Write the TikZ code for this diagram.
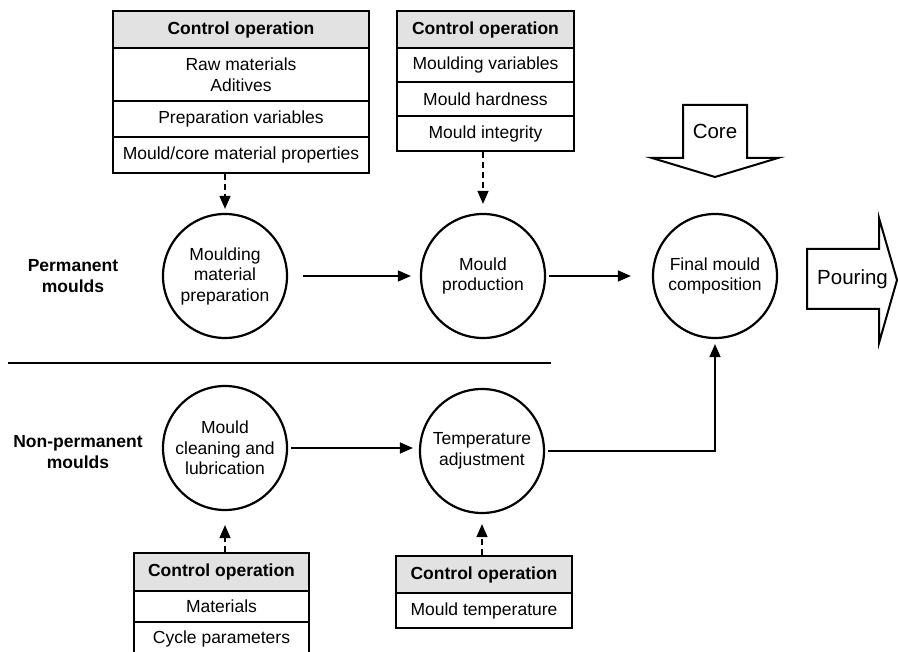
\documentclass[tikz,border=0pt]{standalone}
\usepackage{fontspec}
\setmainfont{Liberation Sans}
\usetikzlibrary{arrows.meta}
\definecolor{headgray}{HTML}{E2E2E2}
\newcommand{\txtsize}{\fontsize{17.5}{20.5}\selectfont}
\newcommand{\bigsize}{\fontsize{20.5}{24}\selectfont}
\begin{document}
\begin{tikzpicture}[x=1pt,y=-1pt,
  every node/.style={font=\txtsize},
  proc/.style={circle, draw, line width=2.2pt, minimum size=124pt, inner sep=0pt, align=center},
  hdr/.style={draw, line width=1.5pt, fill=headgray, font=\txtsize\bfseries, inner sep=0pt},
  cell/.style={draw, line width=1.5pt, inner sep=0pt, align=center},
  side/.style={font=\txtsize\bfseries, align=center},
  flow/.style={line width=1.4pt, -{Triangle[length=13pt,width=11pt]}},
  ctrl/.style={flow, dash pattern=on 6pt off 4pt},
  fat/.style={draw, line width=2pt, line join=miter}
]
\useasboundingbox (0,0) rectangle (898,652);

% control operations for the moulding material
\node[hdr,  minimum width=256pt, minimum height=37pt] (c1h) at (241,29.5) {Control operation};
\node[cell, minimum width=256pt, minimum height=53pt] (c1a) at (241,74.5) {Raw materials\\Aditives};
\node[cell, minimum width=256pt, minimum height=36pt] (c1b) at (241,119) {Preparation variables};
\node[cell, minimum width=256pt, minimum height=36pt] (c1c) at (241,155) {Mould/core material properties};

% control operations for the mould
\node[hdr,  minimum width=177pt, minimum height=37pt] (c2h) at (485.5,29.5) {Control operation};
\node[cell, minimum width=177pt, minimum height=34pt] (c2a) at (485.5,65) {Moulding variables};
\node[cell, minimum width=177pt, minimum height=34pt] (c2b) at (485.5,99) {Mould hardness};
\node[cell, minimum width=177pt, minimum height=35pt] (c2c) at (485.5,133.5) {Mould integrity};

% control operations for cleaning
\node[hdr,  minimum width=175pt, minimum height=38pt] (c3h) at (221.5,572) {Control operation};
\node[cell, minimum width=175pt, minimum height=31pt] (c3a) at (221.5,606.5) {Materials};
\node[cell, minimum width=175pt, minimum height=34pt] (c3b) at (221.5,639) {Cycle parameters};

% control operations for temperature
\node[hdr,  minimum width=176pt, minimum height=37pt] (c4h) at (484,574.5) {Control operation};
\node[cell, minimum width=176pt, minimum height=35pt] (c4a) at (484,610.5) {Mould temperature};

% process steps
\node[proc] (p1) at (225,276) {Moulding\\material\\preparation};
\node[proc] (p2) at (483,276) {Mould\\production};
\node[proc] (p3) at (715,276) {Final mould\\composition};
\node[proc] (q1) at (225,448) {Mould\\cleaning and\\lubrication};
\node[proc] (q2) at (482,451) {Temperature\\adjustment};

% row labels and separator
\node[side] (lp) at (73,276) {Permanent\\moulds};
\node[side] (ln) at (78,452) {Non-permanent\\moulds};
\coordinate (sepL) at (8,363);
\coordinate (sepR) at (551,363);
\draw[line width=1.6pt] (sepL) -- (sepR);

% core and pouring block arrows
\draw[fat] (683,105) -- (747,105) -- (747,158) -- (778,158) -- (715,177)
  -- (652,158) -- (683,158) -- cycle;
\node[font=\bigsize] (core) at (715,131) {Core};
\draw[fat] (807,249) -- (879,249) -- (879,218) -- (897,280) -- (879,343)
  -- (879,309) -- (807,309) -- cycle;
\node[font=\bigsize, anchor=west, inner sep=0pt] (pour) at (817,279) {Pouring};

% main flow
\draw[flow, shorten <=15pt, shorten >=9pt] (p1.east) -- (p2.west);
\draw[flow, shorten <=3pt, shorten >=21pt] (p2.east) -- (p3.west);
\draw[flow, shorten <=3pt, shorten >=6pt] (q1.east) -- (q2.west |- q1.east);
\draw[flow, shorten >=5pt] ([xshift=3pt]q2.east) -- (q2.east -| p3.south) -- (p3.south);

% control links
\draw[ctrl, shorten >=4pt] (p1.north |- c1c.south) -- (p1.north);
\draw[ctrl, shorten >=9pt] (p2.north |- c2c.south) -- (p2.north);
\draw[ctrl, shorten >=14pt] (q1.south |- c3h.north) -- (q1.south);
\draw[ctrl, shorten >=10pt] (q2.south |- c4h.north) -- (q2.south);
\end{tikzpicture}
\end{document}
